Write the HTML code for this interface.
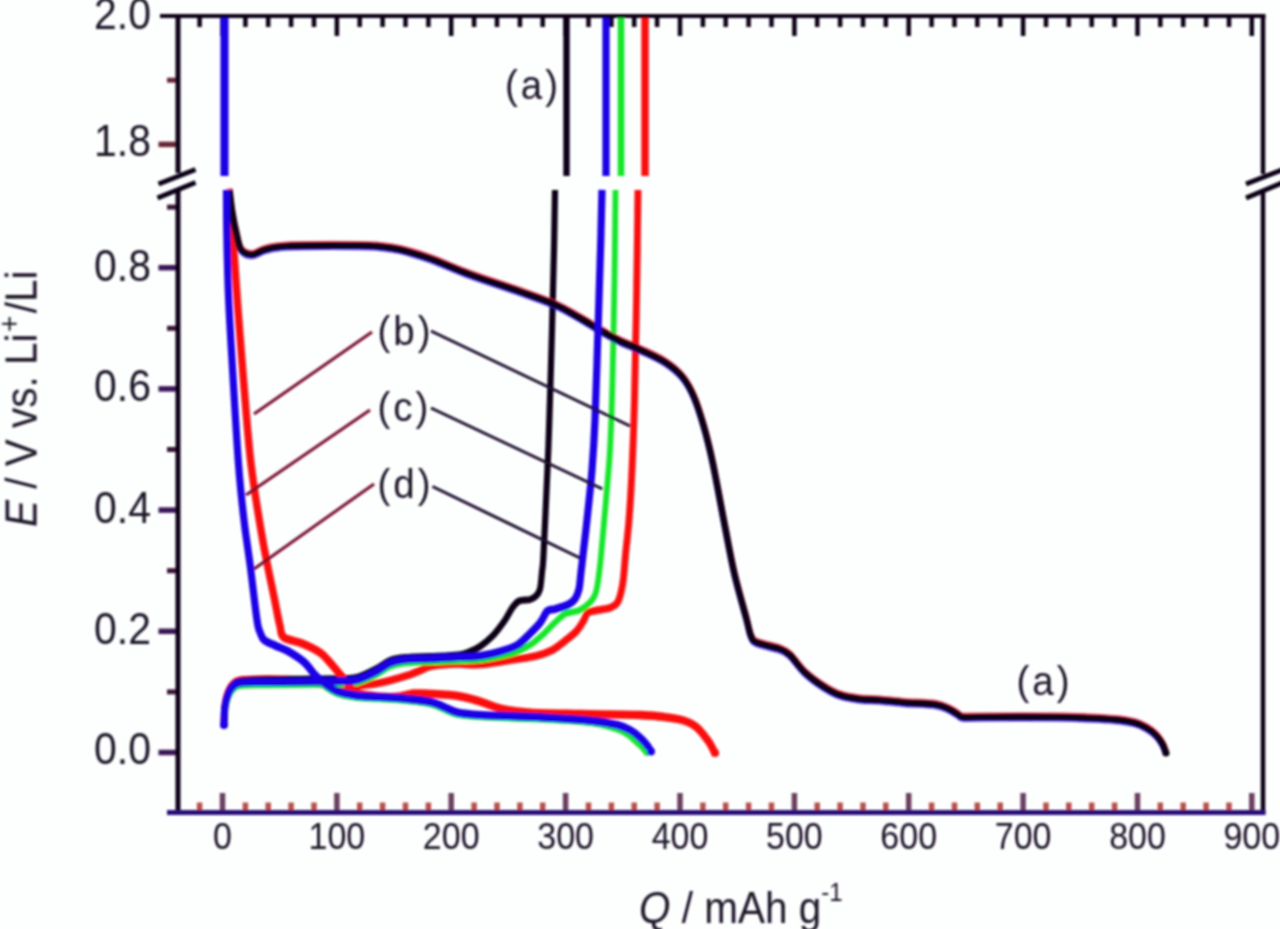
<!DOCTYPE html>
<html lang="en"><head><meta charset="utf-8"><title>Charge-discharge curves</title>
<style>
html,body{margin:0;padding:0;background:#fdfefe;}
body{width:1280px;height:929px;overflow:hidden;font-family:"Liberation Sans",Arial,sans-serif;}
svg{display:block;}
</style></head><body>
<svg width="1280" height="929" viewBox="0 0 1280 929">
<defs><filter id="bl" x="-5%" y="-5%" width="110%" height="110%"><feGaussianBlur stdDeviation="1.15"/></filter></defs>
<rect width="1280" height="929" fill="#fdfefe"/>
<g filter="url(#bl)">
<g fill="none">
<path d="M199.6 16.0 L199.6 27.0" stroke="#0a0418" stroke-width="4.5"/>
<path d="M199.6 812.5 L199.6 802.5" stroke="#b8504a" stroke-width="5.5"/>
<path d="M222.5 16.0 L222.5 36.0" stroke="#0a0418" stroke-width="4.5"/>
<path d="M222.5 812.5 L222.5 793.0" stroke="#6a4060" stroke-width="5.5"/>
<path d="M245.4 16.0 L245.4 27.0" stroke="#0a0418" stroke-width="4.5"/>
<path d="M245.4 812.5 L245.4 802.5" stroke="#b8504a" stroke-width="5.5"/>
<path d="M268.2 16.0 L268.2 27.0" stroke="#0a0418" stroke-width="4.5"/>
<path d="M268.2 812.5 L268.2 802.5" stroke="#b8504a" stroke-width="5.5"/>
<path d="M291.1 16.0 L291.1 27.0" stroke="#0a0418" stroke-width="4.5"/>
<path d="M291.1 812.5 L291.1 802.5" stroke="#b8504a" stroke-width="5.5"/>
<path d="M314.0 16.0 L314.0 27.0" stroke="#0a0418" stroke-width="4.5"/>
<path d="M314.0 812.5 L314.0 802.5" stroke="#b8504a" stroke-width="5.5"/>
<path d="M336.9 16.0 L336.9 36.0" stroke="#0a0418" stroke-width="4.5"/>
<path d="M336.9 812.5 L336.9 793.0" stroke="#6a4060" stroke-width="5.5"/>
<path d="M359.7 16.0 L359.7 27.0" stroke="#0a0418" stroke-width="4.5"/>
<path d="M359.7 812.5 L359.7 802.5" stroke="#b8504a" stroke-width="5.5"/>
<path d="M382.6 16.0 L382.6 27.0" stroke="#0a0418" stroke-width="4.5"/>
<path d="M382.6 812.5 L382.6 802.5" stroke="#b8504a" stroke-width="5.5"/>
<path d="M405.5 16.0 L405.5 27.0" stroke="#0a0418" stroke-width="4.5"/>
<path d="M405.5 812.5 L405.5 802.5" stroke="#b8504a" stroke-width="5.5"/>
<path d="M428.4 16.0 L428.4 27.0" stroke="#0a0418" stroke-width="4.5"/>
<path d="M428.4 812.5 L428.4 802.5" stroke="#b8504a" stroke-width="5.5"/>
<path d="M451.2 16.0 L451.2 36.0" stroke="#0a0418" stroke-width="4.5"/>
<path d="M451.2 812.5 L451.2 793.0" stroke="#6a4060" stroke-width="5.5"/>
<path d="M474.1 16.0 L474.1 27.0" stroke="#0a0418" stroke-width="4.5"/>
<path d="M474.1 812.5 L474.1 802.5" stroke="#b8504a" stroke-width="5.5"/>
<path d="M497.0 16.0 L497.0 27.0" stroke="#0a0418" stroke-width="4.5"/>
<path d="M497.0 812.5 L497.0 802.5" stroke="#b8504a" stroke-width="5.5"/>
<path d="M519.9 16.0 L519.9 27.0" stroke="#0a0418" stroke-width="4.5"/>
<path d="M519.9 812.5 L519.9 802.5" stroke="#b8504a" stroke-width="5.5"/>
<path d="M542.7 16.0 L542.7 27.0" stroke="#0a0418" stroke-width="4.5"/>
<path d="M542.7 812.5 L542.7 802.5" stroke="#b8504a" stroke-width="5.5"/>
<path d="M565.6 16.0 L565.6 36.0" stroke="#0a0418" stroke-width="4.5"/>
<path d="M565.6 812.5 L565.6 793.0" stroke="#6a4060" stroke-width="5.5"/>
<path d="M588.5 16.0 L588.5 27.0" stroke="#0a0418" stroke-width="4.5"/>
<path d="M588.5 812.5 L588.5 802.5" stroke="#b8504a" stroke-width="5.5"/>
<path d="M611.4 16.0 L611.4 27.0" stroke="#0a0418" stroke-width="4.5"/>
<path d="M611.4 812.5 L611.4 802.5" stroke="#b8504a" stroke-width="5.5"/>
<path d="M634.2 16.0 L634.2 27.0" stroke="#0a0418" stroke-width="4.5"/>
<path d="M634.2 812.5 L634.2 802.5" stroke="#b8504a" stroke-width="5.5"/>
<path d="M657.1 16.0 L657.1 27.0" stroke="#0a0418" stroke-width="4.5"/>
<path d="M657.1 812.5 L657.1 802.5" stroke="#b8504a" stroke-width="5.5"/>
<path d="M680.0 16.0 L680.0 36.0" stroke="#0a0418" stroke-width="4.5"/>
<path d="M680.0 812.5 L680.0 793.0" stroke="#6a4060" stroke-width="5.5"/>
<path d="M702.9 16.0 L702.9 27.0" stroke="#0a0418" stroke-width="4.5"/>
<path d="M702.9 812.5 L702.9 802.5" stroke="#b8504a" stroke-width="5.5"/>
<path d="M725.7 16.0 L725.7 27.0" stroke="#0a0418" stroke-width="4.5"/>
<path d="M725.7 812.5 L725.7 802.5" stroke="#b8504a" stroke-width="5.5"/>
<path d="M748.6 16.0 L748.6 27.0" stroke="#0a0418" stroke-width="4.5"/>
<path d="M748.6 812.5 L748.6 802.5" stroke="#b8504a" stroke-width="5.5"/>
<path d="M771.5 16.0 L771.5 27.0" stroke="#0a0418" stroke-width="4.5"/>
<path d="M771.5 812.5 L771.5 802.5" stroke="#b8504a" stroke-width="5.5"/>
<path d="M794.4 16.0 L794.4 36.0" stroke="#0a0418" stroke-width="4.5"/>
<path d="M794.4 812.5 L794.4 793.0" stroke="#6a4060" stroke-width="5.5"/>
<path d="M817.2 16.0 L817.2 27.0" stroke="#0a0418" stroke-width="4.5"/>
<path d="M817.2 812.5 L817.2 802.5" stroke="#b8504a" stroke-width="5.5"/>
<path d="M840.1 16.0 L840.1 27.0" stroke="#0a0418" stroke-width="4.5"/>
<path d="M840.1 812.5 L840.1 802.5" stroke="#b8504a" stroke-width="5.5"/>
<path d="M863.0 16.0 L863.0 27.0" stroke="#0a0418" stroke-width="4.5"/>
<path d="M863.0 812.5 L863.0 802.5" stroke="#b8504a" stroke-width="5.5"/>
<path d="M885.8 16.0 L885.8 27.0" stroke="#0a0418" stroke-width="4.5"/>
<path d="M885.8 812.5 L885.8 802.5" stroke="#b8504a" stroke-width="5.5"/>
<path d="M908.7 16.0 L908.7 36.0" stroke="#0a0418" stroke-width="4.5"/>
<path d="M908.7 812.5 L908.7 793.0" stroke="#6a4060" stroke-width="5.5"/>
<path d="M931.6 16.0 L931.6 27.0" stroke="#0a0418" stroke-width="4.5"/>
<path d="M931.6 812.5 L931.6 802.5" stroke="#b8504a" stroke-width="5.5"/>
<path d="M954.5 16.0 L954.5 27.0" stroke="#0a0418" stroke-width="4.5"/>
<path d="M954.5 812.5 L954.5 802.5" stroke="#b8504a" stroke-width="5.5"/>
<path d="M977.3 16.0 L977.3 27.0" stroke="#0a0418" stroke-width="4.5"/>
<path d="M977.3 812.5 L977.3 802.5" stroke="#b8504a" stroke-width="5.5"/>
<path d="M1000.2 16.0 L1000.2 27.0" stroke="#0a0418" stroke-width="4.5"/>
<path d="M1000.2 812.5 L1000.2 802.5" stroke="#b8504a" stroke-width="5.5"/>
<path d="M1023.1 16.0 L1023.1 36.0" stroke="#0a0418" stroke-width="4.5"/>
<path d="M1023.1 812.5 L1023.1 793.0" stroke="#6a4060" stroke-width="5.5"/>
<path d="M1046.0 16.0 L1046.0 27.0" stroke="#0a0418" stroke-width="4.5"/>
<path d="M1046.0 812.5 L1046.0 802.5" stroke="#b8504a" stroke-width="5.5"/>
<path d="M1068.8 16.0 L1068.8 27.0" stroke="#0a0418" stroke-width="4.5"/>
<path d="M1068.8 812.5 L1068.8 802.5" stroke="#b8504a" stroke-width="5.5"/>
<path d="M1091.7 16.0 L1091.7 27.0" stroke="#0a0418" stroke-width="4.5"/>
<path d="M1091.7 812.5 L1091.7 802.5" stroke="#b8504a" stroke-width="5.5"/>
<path d="M1114.6 16.0 L1114.6 27.0" stroke="#0a0418" stroke-width="4.5"/>
<path d="M1114.6 812.5 L1114.6 802.5" stroke="#b8504a" stroke-width="5.5"/>
<path d="M1137.5 16.0 L1137.5 36.0" stroke="#0a0418" stroke-width="4.5"/>
<path d="M1137.5 812.5 L1137.5 793.0" stroke="#6a4060" stroke-width="5.5"/>
<path d="M1160.3 16.0 L1160.3 27.0" stroke="#0a0418" stroke-width="4.5"/>
<path d="M1160.3 812.5 L1160.3 802.5" stroke="#b8504a" stroke-width="5.5"/>
<path d="M1183.2 16.0 L1183.2 27.0" stroke="#0a0418" stroke-width="4.5"/>
<path d="M1183.2 812.5 L1183.2 802.5" stroke="#b8504a" stroke-width="5.5"/>
<path d="M1206.1 16.0 L1206.1 27.0" stroke="#0a0418" stroke-width="4.5"/>
<path d="M1206.1 812.5 L1206.1 802.5" stroke="#b8504a" stroke-width="5.5"/>
<path d="M1229.0 16.0 L1229.0 27.0" stroke="#0a0418" stroke-width="4.5"/>
<path d="M1229.0 812.5 L1229.0 802.5" stroke="#b8504a" stroke-width="5.5"/>
<path d="M1251.8 16.0 L1251.8 36.0" stroke="#0a0418" stroke-width="4.5"/>
<path d="M1251.8 812.5 L1251.8 793.0" stroke="#6a4060" stroke-width="5.5"/>
<path d="M178.0 752.5 L158.5 752.5" stroke="#3a1858" stroke-width="5.5"/>
<path d="M178.0 691.9 L167.0 691.9" stroke="#3a1438" stroke-width="5"/>
<path d="M178.0 631.3 L158.5 631.3" stroke="#3a1858" stroke-width="5.5"/>
<path d="M178.0 570.7 L167.0 570.7" stroke="#3a1438" stroke-width="5"/>
<path d="M178.0 510.1 L158.5 510.1" stroke="#3a1858" stroke-width="5.5"/>
<path d="M178.0 449.5 L167.0 449.5" stroke="#3a1438" stroke-width="5"/>
<path d="M178.0 388.9 L158.5 388.9" stroke="#3a1858" stroke-width="5.5"/>
<path d="M178.0 328.3 L167.0 328.3" stroke="#3a1438" stroke-width="5"/>
<path d="M178.0 267.7 L158.5 267.7" stroke="#3a1858" stroke-width="5.5"/>
<path d="M178.0 207.1 L167.0 207.1" stroke="#3a1438" stroke-width="5"/>
<path d="M178.0 80.2 L167.0 80.2" stroke="#6a2838" stroke-width="5"/>
<path d="M178.0 144.4 L158.5 144.4" stroke="#6a2838" stroke-width="5.5"/>
</g>
<g fill="none" stroke-linejoin="round" stroke-linecap="butt" transform="scale(1 1.120)">
<path d="M566.5 15.18 L566.5 157.14" stroke="#0c0618" stroke-width="6.4"/>
<path d="M645.0 15.18 L645.0 157.14" stroke="#fa0a0a" stroke-width="7.4"/>
<path d="M621.0 15.18 L621.0 157.14" stroke="#12e62c" stroke-width="6.6"/>
<path d="M606.0 15.18 L606.0 157.14" stroke="#1a06e6" stroke-width="7.2"/>
<path d="M224.5 15.18 L224.5 157.14" stroke="#1a06e6" stroke-width="8.0"/>
<path d="M224.0 645.1 C224.1 642.6 224.2 634.2 224.8 629.9 C225.4 625.6 226.2 622.3 227.5 619.2 C228.8 616.1 230.2 613.2 232.5 611.2 C234.8 609.2 234.8 608.0 241.0 607.1 C247.2 606.3 261.8 606.3 270.0 606.2 C278.2 606.2 283.3 606.2 290.0 606.7 C296.7 607.1 304.2 608.1 310.0 608.9 C315.8 609.7 319.2 610.9 325.0 611.6 C330.8 612.3 337.5 613.0 345.0 612.9 C352.5 612.9 362.5 612.1 370.0 611.2 C377.5 610.3 383.8 608.9 390.0 607.6 C396.2 606.2 402.5 604.6 407.5 603.1 C412.5 601.6 415.9 600.1 420.0 598.7 C424.1 597.2 425.7 595.6 432.0 594.6 C438.3 593.7 450.0 593.1 458.0 592.9 C466.0 592.6 471.2 593.9 480.0 593.3 C488.8 592.7 501.7 590.6 511.0 589.3 C520.3 588.0 529.1 587.2 536.0 585.7 C542.9 584.2 547.2 582.9 552.5 580.4 C557.8 577.8 563.3 573.5 567.5 570.5 C571.7 567.6 574.8 565.3 577.5 562.5 C580.2 559.7 582.2 556.2 584.0 553.6 C585.8 551.0 585.5 548.4 588.0 546.9 C590.5 545.4 595.2 545.4 599.0 544.6 C602.8 543.9 607.9 543.5 611.0 542.4 C614.1 541.3 615.8 540.2 617.5 537.9 C619.2 535.7 620.0 532.7 621.0 529.0 C622.0 525.4 622.8 521.7 623.5 516.1 C624.2 510.5 624.6 504.2 625.5 495.5 C626.4 486.9 627.9 476.9 629.0 464.3 C630.1 451.6 631.1 437.5 632.0 419.6 C632.9 401.8 633.8 382.4 634.5 357.1 C635.2 331.8 635.9 299.1 636.5 267.9 C637.1 236.6 637.8 186.0 638.0 169.6" stroke="#fa0a0a" stroke-width="6.8"/>
<path d="M224.0 650.0 C224.1 647.5 224.2 639.1 224.8 634.8 C225.4 630.5 226.2 627.2 227.5 624.1 C228.8 621.0 230.2 618.1 232.5 616.1 C234.8 614.1 234.8 612.8 241.0 612.1 C247.2 611.3 258.2 611.8 270.0 611.6 C281.8 611.5 299.5 611.3 312.0 611.2 C324.5 611.0 337.3 611.0 345.0 610.7 C352.7 610.4 352.8 610.7 358.0 609.4 C363.2 608.0 370.7 605.1 376.0 602.7 C381.3 600.3 385.2 596.9 390.0 595.1 C394.8 593.3 398.3 592.6 405.0 592.0 C411.7 591.3 421.2 591.4 430.0 591.1 C438.8 590.8 449.7 590.5 458.0 590.2 C466.3 589.9 471.2 590.3 480.0 589.3 C488.8 588.2 502.7 586.2 511.0 583.9 C519.3 581.7 524.8 578.7 530.0 575.9 C535.2 573.1 538.3 570.3 542.5 567.0 C546.7 563.6 551.2 558.9 555.0 555.8 C558.8 552.7 560.8 550.1 565.0 548.2 C569.2 546.4 575.8 546.4 580.0 544.6 C584.2 542.9 587.5 540.2 590.0 537.9 C592.5 535.7 593.8 533.9 595.0 531.2 C596.2 528.6 596.7 526.6 597.5 522.3 C598.3 518.0 599.2 511.3 600.0 505.4 C600.8 499.4 601.0 496.4 602.0 486.6 C603.0 476.8 604.7 460.6 606.0 446.4 C607.3 432.3 608.9 419.6 610.0 401.8 C611.1 383.9 611.8 364.6 612.5 339.3 C613.2 314.0 614.0 278.3 614.5 250.0 C615.0 221.7 615.3 183.0 615.5 169.6" stroke="#12e62c" stroke-width="5.8"/>
<path d="M224.0 646.0 C224.1 643.5 224.2 635.1 224.8 630.8 C225.4 626.5 226.2 623.2 227.5 620.1 C228.8 617.0 230.2 614.1 232.5 612.1 C234.8 610.0 234.8 608.9 241.0 608.0 C247.2 607.1 258.2 607.0 270.0 606.7 C281.8 606.4 299.5 606.4 312.0 606.2 C324.5 606.1 337.3 606.1 345.0 605.8 C352.7 605.5 352.8 605.9 358.0 604.5 C363.2 603.1 370.7 599.8 376.0 597.3 C381.3 594.9 385.2 591.4 390.0 589.7 C394.8 588.0 398.3 587.6 405.0 587.1 C411.7 586.5 421.2 586.5 430.0 586.2 C438.8 585.8 451.3 585.6 458.0 584.8 C464.7 584.1 466.3 583.0 470.0 581.7 C473.7 580.4 476.2 579.5 480.0 577.2 C483.8 574.9 488.3 571.8 492.5 567.9 C496.7 563.9 501.7 557.8 505.0 553.6 C508.3 549.3 510.2 545.2 512.5 542.4 C514.8 539.6 516.1 537.8 519.0 536.6 C521.9 535.4 527.2 536.0 530.0 535.3 C532.8 534.5 534.3 533.7 536.0 532.1 C537.7 530.6 539.0 529.5 540.0 525.9 C541.0 522.3 541.4 515.8 542.0 510.7 C542.6 505.7 542.7 509.2 543.5 495.5 C544.3 481.8 546.1 447.2 547.0 428.6 C547.9 410.0 548.2 406.2 549.0 383.9 C549.8 361.6 551.2 321.4 552.0 294.6 C552.8 267.9 553.5 244.0 554.0 223.2 C554.5 202.4 554.8 178.6 555.0 169.6" stroke="#0c0618" stroke-width="6.2"/>
<path d="M229.0 175.0 C229.5 180.4 231.1 197.6 232.0 207.1 C232.9 216.7 233.5 220.5 234.5 232.1 C235.5 243.7 236.5 258.9 238.0 276.8 C239.5 294.6 241.3 316.4 243.5 339.3 C245.7 362.2 247.8 390.6 251.0 414.3 C254.2 437.9 258.5 460.8 262.5 481.2 C266.5 501.7 272.1 524.1 275.0 537.1 C277.9 550.0 278.5 553.6 280.0 558.9 C281.5 564.3 280.2 566.6 284.0 569.2 C287.8 571.8 296.5 572.3 302.5 574.6 C308.5 576.8 315.4 579.8 320.0 582.6 C324.6 585.4 326.5 588.1 330.0 591.5 C333.5 594.9 337.3 599.2 341.0 603.1 C344.7 607.1 348.0 612.3 352.0 615.2 C356.0 618.1 357.8 619.3 365.0 620.5 C372.2 621.7 386.8 622.5 395.0 622.3 C403.2 622.1 407.8 619.6 414.0 619.2 C420.2 618.8 425.2 619.3 432.5 619.6 C439.8 620.0 449.6 620.3 457.5 621.4 C465.4 622.5 472.5 624.4 480.0 626.3 C487.5 628.3 494.2 631.4 502.5 633.0 C510.8 634.7 517.1 635.4 530.0 636.2 C542.9 636.9 561.7 637.1 580.0 637.5 C598.3 637.9 623.8 637.6 640.0 638.4 C656.2 639.1 668.3 640.3 677.5 642.0 C686.7 643.6 690.0 645.1 695.0 648.2 C700.0 651.3 704.2 656.7 707.5 660.7 C710.8 664.7 713.8 670.4 715.0 672.3" stroke="#fa0a0a" stroke-width="7.4"/>
<path d="M315.0 603.6 C316.6 605.1 321.0 610.1 324.8 612.8 C328.6 615.4 332.8 617.8 337.8 619.5 C342.8 621.1 349.6 621.9 354.8 622.6 C360.0 623.3 360.2 623.0 368.8 623.5 C377.4 624.0 395.9 624.8 406.3 625.7 C416.7 626.6 425.1 627.6 431.3 628.8 C437.6 630.1 439.6 631.8 443.8 633.3 C448.0 634.8 450.5 636.7 456.3 637.8 C462.1 638.9 464.6 639.3 478.8 640.0 C493.0 640.7 522.5 641.3 541.3 642.2 C560.0 643.1 579.0 644.0 591.3 645.4 C603.6 646.7 609.0 648.8 615.0 650.4 C621.0 652.1 623.5 653.4 627.0 655.4 C630.5 657.3 633.3 660.0 636.0 662.1 C638.7 664.1 641.2 666.1 643.0 667.9 C644.8 669.6 646.3 671.6 647.0 672.3" stroke="#12e62c" stroke-width="5.8"/>
</g>
<path d="M229.5 190.0 C229.9 193.5 230.8 203.3 232.0 211.0 C233.2 218.7 235.4 229.5 237.0 236.0 C238.6 242.5 238.9 246.9 241.5 250.0 C244.1 253.1 248.6 254.6 252.5 254.5 C256.4 254.4 259.2 250.9 265.0 249.5 C270.8 248.1 271.7 246.7 287.5 246.0 C303.3 245.3 344.6 245.4 360.0 245.5 C375.4 245.6 373.3 245.8 380.0 246.5 C386.7 247.2 391.7 247.5 400.0 249.5 C408.3 251.5 418.3 254.3 430.0 258.5 C441.7 262.7 455.0 269.0 470.0 274.5 C485.0 280.0 505.8 286.5 520.0 291.5 C534.2 296.5 545.0 300.1 555.0 304.5 C565.0 308.9 572.5 313.8 580.0 318.0 C587.5 322.2 593.3 326.2 600.0 330.0 C606.7 333.8 613.3 337.8 620.0 341.0 C626.7 344.2 632.5 346.0 640.0 349.5 C647.5 353.0 657.9 357.4 665.0 362.0 C672.1 366.6 677.7 371.2 682.5 377.0 C687.3 382.8 690.4 388.7 694.0 397.0 C697.6 405.3 700.8 415.8 704.0 427.0 C707.2 438.2 709.6 447.8 713.0 464.0 C716.4 480.2 720.9 505.7 724.5 524.0 C728.1 542.3 730.8 558.2 734.5 574.0 C738.2 589.8 743.8 608.7 746.5 619.0 C749.2 629.3 749.2 632.1 751.0 636.0 C752.8 639.9 752.2 640.3 757.0 642.5 C761.8 644.7 774.5 646.9 780.0 649.0 C785.5 651.1 785.8 651.1 790.0 655.0 C794.2 658.9 799.2 667.1 805.0 672.5 C810.8 677.9 819.2 683.8 825.0 687.5 C830.8 691.2 834.2 693.1 840.0 695.0 C845.8 696.9 853.3 698.2 860.0 699.0 C866.7 699.8 872.5 699.4 880.0 700.0 C887.5 700.6 895.7 701.8 905.0 702.5 C914.3 703.2 928.7 703.4 936.0 704.5 C943.3 705.6 945.4 707.4 949.0 709.0 C952.6 710.6 955.2 712.7 957.5 714.0 C959.8 715.3 958.8 716.5 962.5 717.0 C966.2 717.5 963.8 717.0 980.0 717.0 C996.2 717.0 1041.7 716.8 1060.0 717.0 C1078.3 717.2 1080.8 717.6 1090.0 718.0 C1099.2 718.4 1107.7 718.8 1115.0 719.5 C1122.3 720.2 1128.8 721.2 1134.0 722.5 C1139.2 723.8 1142.3 725.4 1146.0 727.5 C1149.7 729.6 1153.2 732.2 1156.0 735.0 C1158.8 737.8 1160.8 741.0 1162.5 744.0 C1164.2 747.0 1165.4 751.5 1166.0 753.0" fill="none" stroke="#e8203a" stroke-opacity="0.75" stroke-width="6" stroke-linejoin="round" transform="translate(0 -1.6)"/>
<path d="M229.5 190.0 C229.9 193.5 230.8 203.3 232.0 211.0 C233.2 218.7 235.4 229.5 237.0 236.0 C238.6 242.5 238.9 246.9 241.5 250.0 C244.1 253.1 248.6 254.6 252.5 254.5 C256.4 254.4 259.2 250.9 265.0 249.5 C270.8 248.1 271.7 246.7 287.5 246.0 C303.3 245.3 344.6 245.4 360.0 245.5 C375.4 245.6 373.3 245.8 380.0 246.5 C386.7 247.2 391.7 247.5 400.0 249.5 C408.3 251.5 418.3 254.3 430.0 258.5 C441.7 262.7 455.0 269.0 470.0 274.5 C485.0 280.0 505.8 286.5 520.0 291.5 C534.2 296.5 545.0 300.1 555.0 304.5 C565.0 308.9 572.5 313.8 580.0 318.0 C587.5 322.2 593.3 326.2 600.0 330.0 C606.7 333.8 613.3 337.8 620.0 341.0 C626.7 344.2 632.5 346.0 640.0 349.5 C647.5 353.0 657.9 357.4 665.0 362.0 C672.1 366.6 677.7 371.2 682.5 377.0 C687.3 382.8 690.4 388.7 694.0 397.0 C697.6 405.3 700.8 415.8 704.0 427.0 C707.2 438.2 709.6 447.8 713.0 464.0 C716.4 480.2 720.9 505.7 724.5 524.0 C728.1 542.3 730.8 558.2 734.5 574.0 C738.2 589.8 743.8 608.7 746.5 619.0 C749.2 629.3 749.2 632.1 751.0 636.0 C752.8 639.9 752.2 640.3 757.0 642.5 C761.8 644.7 774.5 646.9 780.0 649.0 C785.5 651.1 785.8 651.1 790.0 655.0 C794.2 658.9 799.2 667.1 805.0 672.5 C810.8 677.9 819.2 683.8 825.0 687.5 C830.8 691.2 834.2 693.1 840.0 695.0 C845.8 696.9 853.3 698.2 860.0 699.0 C866.7 699.8 872.5 699.4 880.0 700.0 C887.5 700.6 895.7 701.8 905.0 702.5 C914.3 703.2 928.7 703.4 936.0 704.5 C943.3 705.6 945.4 707.4 949.0 709.0 C952.6 710.6 955.2 712.7 957.5 714.0 C959.8 715.3 958.8 716.5 962.5 717.0 C966.2 717.5 963.8 717.0 980.0 717.0 C996.2 717.0 1041.7 716.8 1060.0 717.0 C1078.3 717.2 1080.8 717.6 1090.0 718.0 C1099.2 718.4 1107.7 718.8 1115.0 719.5 C1122.3 720.2 1128.8 721.2 1134.0 722.5 C1139.2 723.8 1142.3 725.4 1146.0 727.5 C1149.7 729.6 1153.2 732.2 1156.0 735.0 C1158.8 737.8 1160.8 741.0 1162.5 744.0 C1164.2 747.0 1165.4 751.5 1166.0 753.0" fill="none" stroke="#2a10e0" stroke-opacity="0.75" stroke-width="6" stroke-linejoin="round" transform="translate(0 1.7)"/>
<path d="M229.5 190.0 C229.9 193.5 230.8 203.3 232.0 211.0 C233.2 218.7 235.4 229.5 237.0 236.0 C238.6 242.5 238.9 246.9 241.5 250.0 C244.1 253.1 248.6 254.6 252.5 254.5 C256.4 254.4 259.2 250.9 265.0 249.5 C270.8 248.1 271.7 246.7 287.5 246.0 C303.3 245.3 344.6 245.4 360.0 245.5 C375.4 245.6 373.3 245.8 380.0 246.5 C386.7 247.2 391.7 247.5 400.0 249.5 C408.3 251.5 418.3 254.3 430.0 258.5 C441.7 262.7 455.0 269.0 470.0 274.5 C485.0 280.0 505.8 286.5 520.0 291.5 C534.2 296.5 545.0 300.1 555.0 304.5 C565.0 308.9 572.5 313.8 580.0 318.0 C587.5 322.2 593.3 326.2 600.0 330.0 C606.7 333.8 613.3 337.8 620.0 341.0 C626.7 344.2 632.5 346.0 640.0 349.5 C647.5 353.0 657.9 357.4 665.0 362.0 C672.1 366.6 677.7 371.2 682.5 377.0 C687.3 382.8 690.4 388.7 694.0 397.0 C697.6 405.3 700.8 415.8 704.0 427.0 C707.2 438.2 709.6 447.8 713.0 464.0 C716.4 480.2 720.9 505.7 724.5 524.0 C728.1 542.3 730.8 558.2 734.5 574.0 C738.2 589.8 743.8 608.7 746.5 619.0 C749.2 629.3 749.2 632.1 751.0 636.0 C752.8 639.9 752.2 640.3 757.0 642.5 C761.8 644.7 774.5 646.9 780.0 649.0 C785.5 651.1 785.8 651.1 790.0 655.0 C794.2 658.9 799.2 667.1 805.0 672.5 C810.8 677.9 819.2 683.8 825.0 687.5 C830.8 691.2 834.2 693.1 840.0 695.0 C845.8 696.9 853.3 698.2 860.0 699.0 C866.7 699.8 872.5 699.4 880.0 700.0 C887.5 700.6 895.7 701.8 905.0 702.5 C914.3 703.2 928.7 703.4 936.0 704.5 C943.3 705.6 945.4 707.4 949.0 709.0 C952.6 710.6 955.2 712.7 957.5 714.0 C959.8 715.3 958.8 716.5 962.5 717.0 C966.2 717.5 963.8 717.0 980.0 717.0 C996.2 717.0 1041.7 716.8 1060.0 717.0 C1078.3 717.2 1080.8 717.6 1090.0 718.0 C1099.2 718.4 1107.7 718.8 1115.0 719.5 C1122.3 720.2 1128.8 721.2 1134.0 722.5 C1139.2 723.8 1142.3 725.4 1146.0 727.5 C1149.7 729.6 1153.2 732.2 1156.0 735.0 C1158.8 737.8 1160.8 741.0 1162.5 744.0 C1164.2 747.0 1165.4 751.5 1166.0 753.0" fill="none" stroke="#0c0618" stroke-width="6.6" stroke-linejoin="round"/>
<g fill="none" stroke-linejoin="round" stroke-linecap="butt" transform="scale(1 1.120)">
<path d="M224.0 647.3 C224.1 644.8 224.2 636.5 224.8 632.1 C225.4 627.8 226.2 624.6 227.5 621.4 C228.8 618.3 230.2 615.4 232.5 613.4 C234.8 611.4 234.8 610.1 241.0 609.4 C247.2 608.6 258.2 609.1 270.0 608.9 C281.8 608.8 299.5 608.6 312.0 608.5 C324.5 608.3 337.3 608.3 345.0 608.0 C352.7 607.7 352.8 608.1 358.0 606.7 C363.2 605.3 370.7 602.0 376.0 599.6 C381.3 597.1 385.2 593.8 390.0 592.0 C394.8 590.2 398.3 589.5 405.0 588.8 C411.7 588.2 421.2 588.3 430.0 587.9 C438.8 587.6 449.7 587.0 458.0 586.6 C466.3 586.2 473.2 586.5 480.0 585.7 C486.8 585.0 492.8 583.8 499.0 582.1 C505.2 580.5 512.3 578.6 517.5 575.9 C522.7 573.1 526.2 568.9 530.0 565.6 C533.8 562.4 537.1 559.6 540.0 556.2 C542.9 552.9 545.0 547.6 547.5 545.5 C550.0 543.5 551.7 544.6 555.0 543.8 C558.3 542.9 564.2 541.7 567.5 540.2 C570.8 538.7 573.1 537.2 575.0 534.8 C576.9 532.4 578.0 529.9 579.0 525.9 C580.0 521.9 580.3 515.8 581.0 510.7 C581.7 505.7 582.0 503.3 583.0 495.5 C584.0 487.8 585.5 476.9 587.0 464.3 C588.5 451.6 590.7 434.5 592.0 419.6 C593.3 404.8 594.0 395.8 595.0 375.0 C596.0 354.2 597.1 319.9 598.0 294.6 C598.9 269.3 599.8 244.0 600.5 223.2 C601.2 202.4 601.8 178.6 602.0 169.6" stroke="#1a06e6" stroke-width="7.2"/>
<path d="M226.5 169.6 C226.6 175.9 226.5 191.4 226.8 207.1 C227.1 222.9 227.6 245.2 228.5 264.3 C229.4 283.3 230.3 296.4 232.0 321.4 C233.7 346.4 236.5 390.5 238.5 414.3 C240.5 438.1 242.1 449.4 244.0 464.3 C245.9 479.2 247.8 488.7 250.0 503.6 C252.2 518.5 255.3 543.5 257.0 553.6 C258.7 563.7 258.8 561.3 260.0 564.3 C261.2 567.3 261.5 569.4 264.0 571.4 C266.5 573.4 271.1 574.7 275.0 576.3 C278.9 578.0 282.7 578.8 287.5 581.2 C292.3 583.7 299.4 587.5 304.0 591.1 C308.6 594.6 311.3 599.3 315.0 602.7 C318.7 606.0 322.0 608.6 326.0 611.2 C330.0 613.7 334.0 616.2 339.0 617.9 C344.0 619.5 350.8 620.3 356.0 621.0 C361.2 621.7 361.4 621.4 370.0 621.9 C378.6 622.4 397.1 623.2 407.5 624.1 C417.9 625.0 426.2 626.0 432.5 627.2 C438.8 628.5 440.8 630.2 445.0 631.7 C449.2 633.2 451.7 635.0 457.5 636.2 C463.3 637.3 465.8 637.6 480.0 638.4 C494.2 639.1 523.8 639.7 542.5 640.6 C561.2 641.5 580.0 642.6 592.5 643.7 C605.0 644.9 611.2 646.0 617.5 647.3 C623.8 648.7 626.2 649.9 630.0 651.8 C633.8 653.6 637.2 656.2 640.0 658.5 C642.8 660.7 645.2 663.1 647.0 665.2 C648.8 667.3 650.3 670.0 651.0 671.0" stroke="#1a06e6" stroke-width="7.2"/>
</g>
<circle cx="715.0" cy="753.0" r="4.1" fill="#fa0a0a"/>
<circle cx="1166.0" cy="753.0" r="3.5" fill="#0c0618"/>
<circle cx="647.0" cy="753.0" r="3.0" fill="#12e62c"/>
<circle cx="651.0" cy="751.5" r="4.0" fill="#1a06e6"/>
<circle cx="224.0" cy="725.0" r="4.0" fill="#1a06e6"/>
<g fill="none" stroke-width="3">
<path d="M372 332 L254 414" stroke="#78102e"/>
<path d="M370 410 L246 495" stroke="#78102e"/>
<path d="M374 484 L254 569" stroke="#78102e"/>
<path d="M431 331 L630 426" stroke="#1c082c"/>
<path d="M431 408 L602.5 489" stroke="#1c082c"/>
<path d="M432.5 486.5 L580 558" stroke="#1c082c"/>
</g>
<g fill="none" stroke="#0a0418">
<path d="M160 16.0 L1265.5 16.0" stroke-width="4"/>
<path d="M178.0 16.0 L178.0 173" stroke-width="5"/>
<path d="M178.0 191 L178.0 814.5" stroke-width="5"/>
<path d="M1263.0 16.0 L1263.0 174" stroke-width="4.5"/>
<path d="M1263.0 192 L1263.0 814.5" stroke-width="4.5"/>
<path d="M158.5 184 L195.5 169.5" stroke-width="5"/>
<path d="M157.5 198 L195.5 182.5" stroke-width="5"/>
<path d="M1246 184 L1283 169.5" stroke-width="5"/>
<path d="M1246 198 L1283 182.5" stroke-width="5"/>
<path d="M167 812.5 L1265.5 812.5" stroke="#2c0a78" stroke-width="5"/>
</g>
<g font-family="Liberation Sans, Arial, Helvetica, sans-serif" fill="#1c1428">
<text transform="translate(151.0 763.5) scale(1 1.075)" font-size="41" text-anchor="end">0.0</text>
<text transform="translate(151.0 644.0) scale(1 1.075)" font-size="41" text-anchor="end">0.2</text>
<text transform="translate(151.0 522.8) scale(1 1.075)" font-size="41" text-anchor="end">0.4</text>
<text transform="translate(151.0 401.0) scale(1 1.075)" font-size="41" text-anchor="end">0.6</text>
<text transform="translate(151.0 280.6) scale(1 1.075)" font-size="41" text-anchor="end">0.8</text>
<text transform="translate(151.0 156.3) scale(1 1.075)" font-size="41" text-anchor="end">1.8</text>
<text transform="translate(151.0 29.2) scale(1 1.075)" font-size="41" text-anchor="end">2.0</text>
<text transform="translate(222.5 849.0) scale(1 1.075)" font-size="34" text-anchor="middle">0</text>
<text transform="translate(336.9 849.0) scale(1 1.075)" font-size="34" text-anchor="middle">100</text>
<text transform="translate(451.2 849.0) scale(1 1.075)" font-size="34" text-anchor="middle">200</text>
<text transform="translate(565.6 849.0) scale(1 1.075)" font-size="34" text-anchor="middle">300</text>
<text transform="translate(680.0 849.0) scale(1 1.075)" font-size="34" text-anchor="middle">400</text>
<text transform="translate(794.4 849.0) scale(1 1.075)" font-size="34" text-anchor="middle">500</text>
<text transform="translate(908.7 849.0) scale(1 1.075)" font-size="34" text-anchor="middle">600</text>
<text transform="translate(1023.1 849.0) scale(1 1.075)" font-size="34" text-anchor="middle">700</text>
<text transform="translate(1137.5 849.0) scale(1 1.075)" font-size="34" text-anchor="middle">800</text>
<text transform="translate(1251.8 849.0) scale(1 1.075)" font-size="34" text-anchor="middle">900</text>
<text transform="translate(505.0 98.5) scale(1 1.075)" font-size="38.5" text-anchor="start" letter-spacing="3">(a)</text>
<text transform="translate(377.5 345.0) scale(1 1.075)" font-size="38.5" text-anchor="start" letter-spacing="3">(b)</text>
<text transform="translate(377.5 421.0) scale(1 1.075)" font-size="38.5" text-anchor="start" letter-spacing="3">(c)</text>
<text transform="translate(377.5 498.0) scale(1 1.075)" font-size="38.5" text-anchor="start" letter-spacing="3">(d)</text>
<text transform="translate(1016.5 695.0) scale(1 1.075)" font-size="38.5" text-anchor="start" letter-spacing="3">(a)</text>
<text transform="translate(639.0 922.5) scale(1 1.075)" font-size="40.5" text-anchor="start"><tspan font-style="italic">Q</tspan> / mAh g<tspan font-size="24" dy="-20">-1</tspan></text>
<text transform="translate(36.8 527.0) rotate(-90) scale(1 1.075)" font-size="40.5" text-anchor="start"><tspan font-style="italic">E</tspan> / V vs. Li<tspan font-size="28" dy="-16" dx="1.5">+</tspan><tspan dy="16" dx="2.5">/Li</tspan></text>
</g>
</g>
</svg>
</body></html>
